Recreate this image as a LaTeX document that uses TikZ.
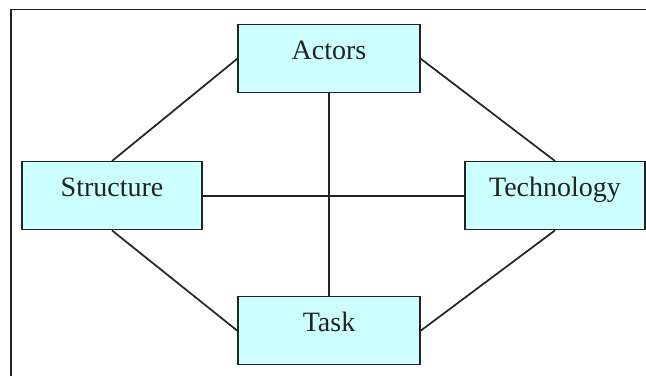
\documentclass[tikz,border=0pt]{standalone}
\usepackage{fontspec}
\setmainfont{Liberation Serif}
\definecolor{boxfill}{HTML}{CCFFFF}
\definecolor{inkc}{HTML}{222222}
\begin{document}
\begin{tikzpicture}[x=1pt,y=-1pt,
  box/.style={draw=inkc, line width=1.4pt, fill=boxfill, inner sep=0pt,
    minimum width=182pt, text height=35pt, text depth=33pt,
    font=\fontsize{28}{30}\selectfont, text=inkc},
  link/.style={draw=inkc, line width=1.7pt}]
\useasboundingbox (0,0) rectangle (646,376);
\fill[white] (0,0) rectangle (646,376);
\draw[inkc, line width=1.4pt] (11,376) -- (11,9.5) -- (646,9.5);
\node[box] (act) at (329,24) [anchor=north] {Actors};
\node[box] (task) at (329,296) [anchor=north] {Task};
\node[box, minimum width=180pt] (str) at (112,161) [anchor=north] {Structure};
\node[box, minimum width=180pt] (tech) at (555,161) [anchor=north] {Technology};
\draw[link] (str.north) -- (act.west);
\draw[link] (tech.north) -- (act.east);
\draw[link] (str.south) -- (task.west);
\draw[link] (tech.south) -- (task.east);
\draw[link] (str.east) -- (tech.west);
\draw[link] (act.south) -- (task.north);
\end{tikzpicture}
\end{document}
